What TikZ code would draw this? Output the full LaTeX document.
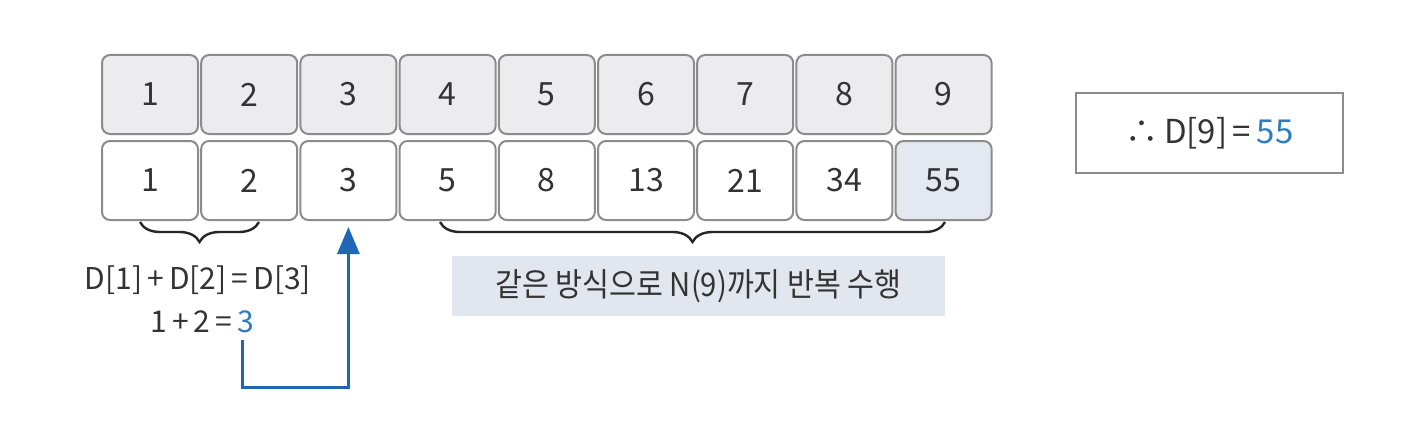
\documentclass[tikz,border=0pt]{standalone}
\usepackage{fontspec}
\setmainfont{Noto Sans CJK KR}
\newfontfamily\krfont[FakeStretch=0.9]{Noto Sans CJK KR}
\usetikzlibrary{arrows.meta,decorations.pathreplacing}
\definecolor{txt}{HTML}{333333}
\definecolor{edge}{HTML}{8C8C8C}
\definecolor{topfill}{HTML}{ECECEE}
\definecolor{hifill}{HTML}{E3E8F1}
\definecolor{labfill}{HTML}{E2E6EE}
\definecolor{blu}{HTML}{2F7BC3}
\definecolor{arr}{HTML}{1F66B5}
\tikzset{
  cell/.style={draw=edge, line width=2pt, rounded corners=8pt, minimum width=96pt,
    minimum height=79pt, inner sep=0pt, text=txt, font=\fontsize{32}{34}\selectfont},
  topcell/.style={cell, fill=topfill},
  botcell/.style={cell, fill=white},
  bracestyle/.style={draw=black!85, line width=2.4pt,
    decorate, decoration={brace, mirror, amplitude=20pt}},
  eqtext/.style={text=txt, inner sep=0pt, font=\fontsize{30}{32}\selectfont},
  blarrow/.style={draw=arr, line width=3pt, -{Triangle[length=27pt,width=22pt]}}
}
\begin{document}
\begin{tikzpicture}[x=1pt,y=-1pt]
\useasboundingbox (0,0) rectangle (1413,436);
\fill[white] (0,0) rectangle (1413,436);
% top row
\foreach \i in {1,...,9} {
  \node[topcell] (t\i) at ({150+99.2*(\i-1)},94.5) {\i};
}
% bottom row
\node[botcell] (b1) at ({150+99.2*0},180.5) {1};
\node[botcell] (b2) at ({150+99.2*1},180.5) {2};
\node[botcell] (b3) at ({150+99.2*2},180.5) {3};
\node[botcell] (b4) at ({150+99.2*3},180.5) {5};
\node[botcell] (b5) at ({150+99.2*4},180.5) {8};
\node[botcell] (b6) at ({150+99.2*5},180.5) {13};
\node[botcell] (b7) at ({150+99.2*6},180.5) {21};
\node[botcell] (b8) at ({150+99.2*7},180.5) {34};
\node[botcell, fill=hifill] (b9) at ({150+99.2*8},180.5) {55};
% braces
\coordinate (br1a) at (140,222);
\coordinate (br1b) at (259,222);
\draw[bracestyle] (br1a) -- (br1b);
\coordinate (br2a) at (440,222);
\coordinate (br2b) at (945,222);
\draw[bracestyle] (br2a) -- (br2b);
% equations
\node[eqtext] (eq1) at (198,280) {D[1]\,+\,D[2]\,=\,D[3]};
\node[eqtext, anchor=east] (eq2) at (254,322) {1\,+\,2\,=\,\textcolor{blu}{3}};
\coordinate (a0) at (242,340);
\draw[blarrow, shorten >=6pt] (a0) -- ++(0,47) -| (b3.south);
% label box
\node[fill=labfill, minimum width=493pt, minimum height=60pt, inner sep=0pt,
  text=txt, font=\krfont\fontsize{32.5}{34}\selectfont] (lab) at (698.5,286)
  {같은 방식으로 N(9)까지 반복 수행};
% result box
\node[draw=edge, line width=2pt, fill=white, minimum width=267pt, minimum height=80pt,
  inner sep=0pt, text=txt, font=\fontsize{33}{35}\selectfont] (res) at (1209.5,133)
  {∴\,D[9]\,=\,\textcolor{blu}{55}};
\end{tikzpicture}
\end{document}
